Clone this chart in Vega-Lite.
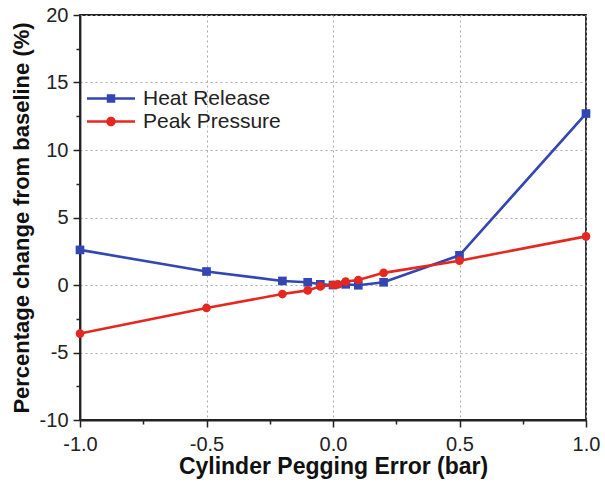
{
  "$schema": "https://vega.github.io/schema/vega-lite/v6.json",
  "autosize": "none",
  "width": 506,
  "height": 405,
  "padding": {"left": 80, "top": 15, "right": 19, "bottom": 63},
  "background": "white",
  "config": {
    "font": "Liberation Sans",
    "view": {"stroke": "#222", "strokeWidth": 1.8},
    "axis": {"labelFont": "Liberation Sans", "titleFont": "Liberation Sans", "labelColor": "#222", "titleColor": "#111"}
  },
  "data": {"values": [
    {"series": "Heat Release", "x": -1, "y": 2.6},
    {"series": "Heat Release", "x": -0.5, "y": 1.0},
    {"series": "Heat Release", "x": -0.2, "y": 0.3},
    {"series": "Heat Release", "x": -0.1, "y": 0.2},
    {"series": "Heat Release", "x": -0.05, "y": 0.05},
    {"series": "Heat Release", "x": 0, "y": 0.0},
    {"series": "Heat Release", "x": 0.05, "y": 0.05},
    {"series": "Heat Release", "x": 0.1, "y": -0.02},
    {"series": "Heat Release", "x": 0.2, "y": 0.2},
    {"series": "Heat Release", "x": 0.5, "y": 2.2},
    {"series": "Heat Release", "x": 1, "y": 12.7},
    {"series": "Peak Pressure", "x": -1, "y": -3.6},
    {"series": "Peak Pressure", "x": -0.5, "y": -1.7},
    {"series": "Peak Pressure", "x": -0.2, "y": -0.67},
    {"series": "Peak Pressure", "x": -0.1, "y": -0.4},
    {"series": "Peak Pressure", "x": -0.05, "y": -0.1},
    {"series": "Peak Pressure", "x": 0, "y": 0.0},
    {"series": "Peak Pressure", "x": 0.02, "y": 0.05},
    {"series": "Peak Pressure", "x": 0.05, "y": 0.25},
    {"series": "Peak Pressure", "x": 0.1, "y": 0.37},
    {"series": "Peak Pressure", "x": 0.2, "y": 0.9},
    {"series": "Peak Pressure", "x": 0.5, "y": 1.8},
    {"series": "Peak Pressure", "x": 1, "y": 3.6}
  ]},
  "encoding": {
    "x": {"field": "x", "type": "quantitative", "scale": {"domain": [-1, 1], "nice": false},
      "axis": {"values": [-1, -0.75, -0.5, -0.25, 0, 0.25, 0.5, 0.75, 1], "title": "Cylinder Pegging Error (bar)",
        "labelExpr": "abs(datum.value*2 - round(datum.value*2)) > 0.01 ? '' : replace(format(datum.value, '.1f'), '\u2212', '-')",
        "labelFlush": false, "labelOverlap": false,
        "labelFontSize": 20, "titleFontSize": 23, "titleFontWeight": "bold", "titlePadding": 1,
        "tickSize": {"condition": {"test": "abs(datum.value*2 - round(datum.value*2)) > 0.01", "value": 4}, "value": 7},
        "tickWidth": 1.5, "tickColor": "#222", "domainColor": "#222", "domainWidth": 1.8, "labelPadding": 7,
        "grid": true, "gridDash": [2, 3], "gridColor": "#aaa", "gridWidth": 1,
        "gridOpacity": {"condition": {"test": "abs(datum.value*2 - round(datum.value*2)) > 0.01", "value": 0}, "value": 1}}},
    "y": {"field": "y", "type": "quantitative", "scale": {"domain": [-10, 20], "nice": false},
      "axis": {"values": [-10, -7.5, -5, -2.5, 0, 2.5, 5, 7.5, 10, 12.5, 15, 17.5, 20], "title": "Percentage change from baseline (%)",
        "labelExpr": "datum.value % 5 !== 0 ? '' : replace(format(datum.value, 'd'), '\u2212', '-')",
        "labelFlush": false, "labelOverlap": false,
        "labelFontSize": 20, "titleFontSize": 22, "titleFontWeight": "bold", "titlePadding": 6,
        "tickSize": {"condition": {"test": "datum.value % 5 !== 0", "value": 4}, "value": 7},
        "tickWidth": 1.5, "tickColor": "#222", "domainColor": "#222", "domainWidth": 1.8, "labelPadding": 5,
        "grid": true, "gridDash": [2, 3], "gridColor": "#aaa", "gridWidth": 1,
        "gridOpacity": {"condition": {"test": "datum.value % 5 !== 0", "value": 0}, "value": 1}}}
  },
  "layer": [
    {
      "mark": {"type": "line", "strokeWidth": 2.6},
      "encoding": {
        "color": {"field": "series", "type": "nominal",
          "scale": {"domain": ["Heat Release", "Peak Pressure"], "range": ["#3246b4", "#e5281f"]},
          "legend": {"title": null, "orient": "none", "legendX": 18.5, "legendY": 71, "labelFontSize": 21, "labelColor": "#222",
            "symbolSize": 625, "rowPadding": 0, "labelOffset": 19.5, "padding": 0,
            "encode": {"symbols": {"update": {
              "shape": {"signal": "datum.value === 'Heat Release' ? 'M-1.92,-0.1 L1.92,-0.1 L1.92,0.1 L-1.92,0.1 Z M-0.34,-0.34 L0.34,-0.34 L0.34,0.34 L-0.34,0.34 Z' : 'M-1.92,-0.1 L1.92,-0.1 L1.92,0.1 L-1.92,0.1 Z M-0.38,0 A0.38,0.38 0 1,1 0.38,0 A0.38,0.38 0 1,1 -0.38,0 Z'"},
              "fill": {"signal": "datum.value === 'Heat Release' ? '#3246b4' : '#e5281f'"},
              "fillOpacity": {"value": 1},
              "strokeWidth": {"value": 0}
            }}}}}
      }
    },
    {
      "transform": [{"filter": "datum.series === 'Heat Release'"}],
      "mark": {"type": "point", "filled": true, "opacity": 1, "size": 75, "shape": "square", "color": "#3246b4"}
    },
    {
      "transform": [{"filter": "datum.series === 'Peak Pressure'"}],
      "mark": {"type": "point", "filled": true, "opacity": 1, "size": 75, "shape": "circle", "color": "#e5281f"}
    }
  ]
}
